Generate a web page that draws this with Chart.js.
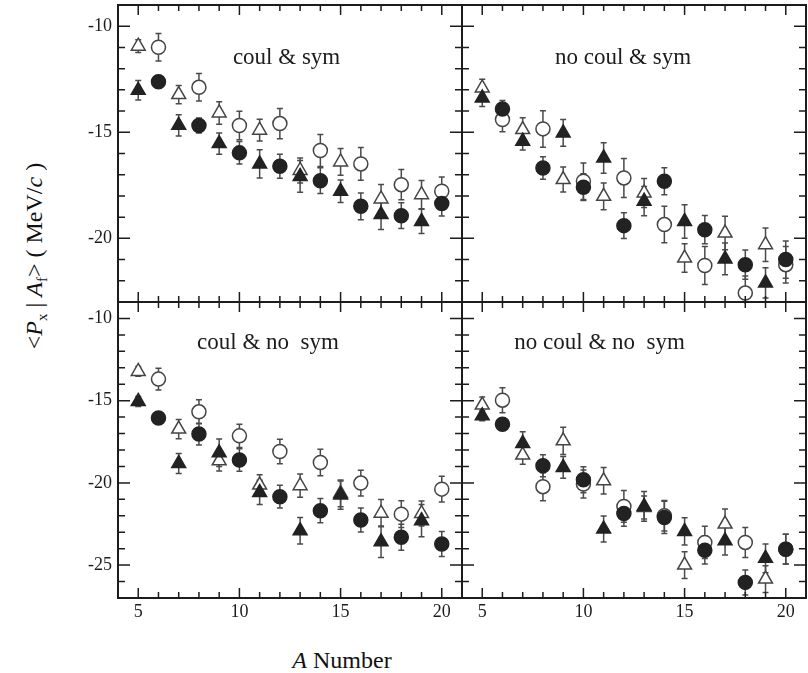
<!DOCTYPE html>
<html>
<head>
<meta charset="utf-8">
<script src="https://cdn.jsdelivr.net/npm/chart.js@4.4.1/dist/chart.umd.min.js"></script>
<style>
  html, body { margin: 0; padding: 0; background: #fff; }
  #wrap { position: relative; width: 808px; height: 673px; overflow: hidden; background: #fff; }
  canvas { position: absolute; }
  .title { position: absolute; font-family: "Liberation Serif", "DejaVu Serif", serif; font-size: 24px; color: #111; white-space: nowrap; }
  .title sub { font-size: 15px; }
</style>
</head>
<body>
<div id="wrap">
  <canvas id="tl" width="404" height="304" style="left:60px;top:0px"></canvas>
  <canvas id="tr" width="348" height="304" style="left:460px;top:0px"></canvas>
  <canvas id="bl" width="404" height="328" style="left:60px;top:300px"></canvas>
  <canvas id="br" width="348" height="328" style="left:460px;top:300px"></canvas>
  <div class="title" id="ytitle" style="left:36px;top:256px;transform:translate(-50%,-50%) rotate(-90deg);">&lt;<i>P</i><sub>x</sub> | <i>A</i><sub>f</sub>&gt; ( MeV/<i>c</i> )</div>
  <div class="title" id="xtitle" style="left:342px;top:660px;transform:translate(-50%,-50%);"><i>A</i> Number</div>
</div>
<script>
// fragment mass numbers: triangles sit on odd A, circles on even A
const A_ODD = [5, 7, 9, 11, 13, 15, 17, 19];
const A_EVEN = [6, 8, 10, 12, 14, 16, 18, 20];

const xTicks = [5, 10, 15, 20];
const yTicksTop = [-10, -15, -20];
const yTicksBottom = [-10, -15, -20, -25];

// coul & sym
const csTriFull = [-13.02, -14.67, -15.53, -16.49, -17.08, -17.78, -18.88, -19.2];
const csTriFullErr = [0.46, 0.5, 0.5, 0.67, 0.75, 0.53, 0.7, 0.57];
const csCircFull = [-12.62, -14.68, -15.97, -16.6, -17.28, -18.49, -18.93, -18.36];
const csCircFullErr = [0.3, 0.35, 0.53, 0.57, 0.61, 0.63, 0.61, 0.59];
const csTriOpen = [-10.94, -13.22, -14.09, -14.9, -16.8, -16.4, -18.14, -17.94];
const csTriOpenErr = [0.3, 0.43, 0.53, 0.51, 0.59, 0.63, 0.68, 0.67];
const csCircOpen = [-10.99, -12.88, -14.68, -14.59, -15.86, -16.49, -17.47, -17.78];
const csCircOpenErr = [0.65, 0.65, 0.67, 0.71, 0.75, 0.77, 0.71, 0.67];

// no coul & sym
const ncsTriFull = [-13.38, -15.42, -15.03, -16.21, -18.25, -19.2, -20.97, -22.1];
const ncsTriFullErr = [0.4, 0.41, 0.63, 0.72, 0.69, 0.79, 0.75, 0.71];
const ncsCircFull = [-13.9, -16.68, -17.59, -19.4, -17.31, -19.59, -21.24, -21.0];
const ncsCircFullErr = [0.4, 0.53, 0.63, 0.61, 0.64, 0.67, 0.69, 0.88];
const ncsTriOpen = [-12.91, -14.87, -17.23, -18.02, -17.86, -20.93, -19.75, -20.3];
const ncsTriOpenErr = [0.41, 0.55, 0.59, 0.63, 0.68, 0.67, 0.79, 0.79];
const ncsCircOpen = [-14.4, -14.84, -17.31, -17.15, -19.35, -21.28, -22.58, -21.24];
const ncsCircOpenErr = [0.57, 0.86, 0.86, 0.92, 0.86, 0.9, 0.8, 0.86];

// coul & no sym
const cnsTriFull = [-15.05, -18.82, -18.17, -20.58, -22.91, -20.74, -23.58, -22.3];
const cnsTriFullErr = [0.3, 0.61, 0.84, 0.74, 0.81, 0.86, 0.96, 0.98];
const cnsCircFull = [-16.06, -17.03, -18.61, -20.84, -21.69, -22.26, -23.31, -23.72];
const cnsCircFullErr = [0.3, 0.66, 0.68, 0.69, 0.74, 0.73, 0.79, 0.76];
const cnsTriOpen = [-13.22, -16.73, -18.66, -20.13, -20.17, -20.64, -21.84, -21.86];
const cnsTriOpenErr = [0.3, 0.58, 0.61, 0.63, 0.71, 0.81, 0.83, 0.76];
const cnsCircOpen = [-13.69, -15.68, -17.14, -18.09, -18.76, -20.01, -21.9, -20.38];
const cnsCircOpenErr = [0.66, 0.73, 0.71, 0.74, 0.81, 0.78, 0.81, 0.78];

// no coul & no sym
const ncnsTriFull = [-15.92, -17.6, -19.06, -22.81, -21.43, -22.95, -23.52, -24.59];
const ncnsTriFullErr = [0.3, 0.71, 0.66, 0.79, 0.91, 0.83, 0.86, 0.88];
const ncnsCircFull = [-16.43, -18.96, -19.81, -21.86, -22.1, -24.09, -26.05, -24.03];
const ncnsCircFullErr = [0.3, 0.67, 0.79, 0.78, 0.98, 0.84, 0.76, 0.91];
const ncnsTriOpen = [-15.27, -18.31, -17.44, -19.87, -21.49, -25.0, -22.5, -25.85];
const ncnsTriOpenErr = [0.49, 0.56, 0.83, 0.81, 0.7, 0.81, 0.91, 0.81];
const ncnsCircOpen = [-14.97, -20.23, -20.07, -21.43, -22.0, -23.62, -23.62, -24.03];
const ncnsCircOpenErr = [0.76, 0.85, 0.85, 0.96, 0.93, 0.98, 0.91, 0.91];

const SERIF = '"Liberation Serif", "DejaVu Serif", serif';
const INK = '#1c1c1c';

Chart.defaults.font.family = SERIF;
Chart.defaults.color = INK;

function series(xs, ys, errs, shape, filled) {
  return {
    data: xs.map((x, i) => ({ x: x, y: ys[i] })),
    errors: errs,
    pointStyle: shape,
    pointRadius: shape === 'triangle' ? 8 : 7,
    pointHoverRadius: shape === 'triangle' ? 8 : 7,
    backgroundColor: filled ? '#222' : '#fff',
    borderColor: filled ? '#222' : '#444',
    borderWidth: 1.5,
    showLine: false,
    clip: false
  };
}

// vertical error bars with small caps, drawn under the markers
const errorBars = {
  id: 'errorBars',
  beforeDatasetsDraw(chart) {
    const ctx = chart.ctx;
    const ys = chart.scales.y;
    ctx.save();
    ctx.strokeStyle = '#4a4a4a';
    ctx.lineWidth = 1.5;
    chart.data.datasets.forEach((ds, i) => {
      const meta = chart.getDatasetMeta(i);
      meta.data.forEach((pt, j) => {
        const v = ds.data[j].y, e = ds.errors[j];
        const y1 = ys.getPixelForValue(v + e), y2 = ys.getPixelForValue(v - e);
        ctx.beginPath();
        ctx.moveTo(pt.x, y1); ctx.lineTo(pt.x, y2);
        ctx.moveTo(pt.x - 3, y1); ctx.lineTo(pt.x + 3, y1);
        ctx.moveTo(pt.x - 3, y2); ctx.lineTo(pt.x + 3, y2);
        ctx.stroke();
      });
    });
    ctx.restore();
  }
};

// box with inward ticks on all four sides
const frame = {
  id: 'frame',
  afterDatasetsDraw(chart) {
    const ctx = chart.ctx;
    const a = chart.chartArea;
    const xs = chart.scales.x, ys = chart.scales.y;
    ctx.save();
    ctx.strokeStyle = INK;
    ctx.lineWidth = 1.5;
    ctx.beginPath();
    for (let v = Math.ceil(xs.min); v <= Math.floor(xs.max); v++) {
      if (v === xs.min || v === xs.max) continue;
      const len = v % 5 === 0 ? 10 : 6;
      const px = xs.getPixelForValue(v);
      ctx.moveTo(px, a.bottom); ctx.lineTo(px, a.bottom - len);
      ctx.moveTo(px, a.top); ctx.lineTo(px, a.top + len);
    }
    for (let v = Math.ceil(ys.min); v <= Math.floor(ys.max); v++) {
      if (v === ys.min || v === ys.max) continue;
      const len = v % 5 === 0 ? 12 : 7;
      const py = ys.getPixelForValue(v);
      ctx.moveTo(a.left, py); ctx.lineTo(a.left + len, py);
      ctx.moveTo(a.right, py); ctx.lineTo(a.right - len, py);
    }
    ctx.stroke();
    ctx.lineWidth = 2;
    ctx.strokeRect(a.left, a.top, a.right - a.left, a.bottom - a.top);
    ctx.restore();
  }
};

const panelLabel = {
  id: 'panelLabel',
  afterDraw(chart, args, opts) {
    const a = chart.chartArea;
    const ctx = chart.ctx;
    ctx.save();
    ctx.font = '23px ' + SERIF;
    ctx.fillStyle = INK;
    ctx.textAlign = 'center';
    ctx.textBaseline = 'middle';
    ctx.fillText(opts.text, a.left + opts.fx * (a.right - a.left), a.top + opts.fy * (a.bottom - a.top));
    ctx.restore();
  }
};

function makePanel(id, sets, opt) {
  return new Chart(document.getElementById(id), {
    type: 'scatter',
    data: { datasets: sets },
    options: {
      responsive: false,
      animation: false,
      devicePixelRatio: 1,
      layout: { padding: opt.padding, autoPadding: false },
      plugins: {
        legend: { display: false },
        tooltip: { enabled: false },
        panelLabel: opt.label
      },
      scales: {
        x: {
          type: 'linear', min: 4, max: 21,
          display: opt.showX,
          grid: { display: false, drawTicks: false },
          border: { display: false },
          afterBuildTicks: s => { s.ticks = xTicks.map(v => ({ value: v })); },
          afterFit: s => {
            s.height = opt.showX ? 30 : 0;
            s.paddingLeft = 0; s.paddingRight = 0;
          },
          ticks: { font: { size: 18 }, padding: 3, maxRotation: 0, color: INK }
        },
        y: {
          type: 'linear', min: opt.yMin, max: -9,
          display: opt.showY,
          grid: { display: false, drawTicks: false },
          border: { display: false },
          afterBuildTicks: s => { s.ticks = opt.yTicks.map(v => ({ value: v })); },
          afterFit: s => {
            s.width = opt.showY ? 58 : 0;
            s.paddingTop = 0; s.paddingBottom = 0;
          },
          ticks: { font: { size: 18 }, padding: 6, color: INK }
        }
      }
    },
    plugins: [errorBars, frame, panelLabel]
  });
}

// filled sets first so they are painted on top of the open ones
function panelSets(triFull, triFullErr, circFull, circFullErr, triOpen, triOpenErr, circOpen, circOpenErr) {
  return [
    series(A_ODD, triFull, triFullErr, 'triangle', true),
    series(A_EVEN, circFull, circFullErr, 'circle', true),
    series(A_ODD, triOpen, triOpenErr, 'triangle', false),
    series(A_EVEN, circOpen, circOpenErr, 'circle', false)
  ];
}

makePanel('tl',
  panelSets(csTriFull, csTriFullErr, csCircFull, csCircFullErr, csTriOpen, csTriOpenErr, csCircOpen, csCircOpenErr),
  { padding: { top: 5, right: 2, bottom: 2, left: 0 }, showX: false, showY: true, yMin: -23, yTicks: yTicksTop,
    label: { text: 'coul & sym', fx: 0.49, fy: 0.178 } });

makePanel('tr',
  panelSets(ncsTriFull, ncsTriFullErr, ncsCircFull, ncsCircFullErr, ncsTriOpen, ncsTriOpenErr, ncsCircOpen, ncsCircOpenErr),
  { padding: { top: 5, right: 2, bottom: 2, left: 2 }, showX: false, showY: false, yMin: -23, yTicks: yTicksTop,
    label: { text: 'no coul & sym', fx: 0.468, fy: 0.178 } });

makePanel('bl',
  panelSets(cnsTriFull, cnsTriFullErr, cnsCircFull, cnsCircFullErr, cnsTriOpen, cnsTriOpenErr, cnsCircOpen, cnsCircOpenErr),
  { padding: { top: 2, right: 2, bottom: 0, left: 0 }, showX: true, showY: true, yMin: -27, yTicks: yTicksBottom,
    label: { text: 'coul & no  sym', fx: 0.436, fy: 0.139 } });

makePanel('br',
  panelSets(ncnsTriFull, ncnsTriFullErr, ncnsCircFull, ncnsCircFullErr, ncnsTriOpen, ncnsTriOpenErr, ncnsCircOpen, ncnsCircOpenErr),
  { padding: { top: 2, right: 2, bottom: 0, left: 2 }, showX: true, showY: false, yMin: -27, yTicks: yTicksBottom,
    label: { text: 'no coul & no  sym', fx: 0.40, fy: 0.139 } });
</script>
</body>
</html>
